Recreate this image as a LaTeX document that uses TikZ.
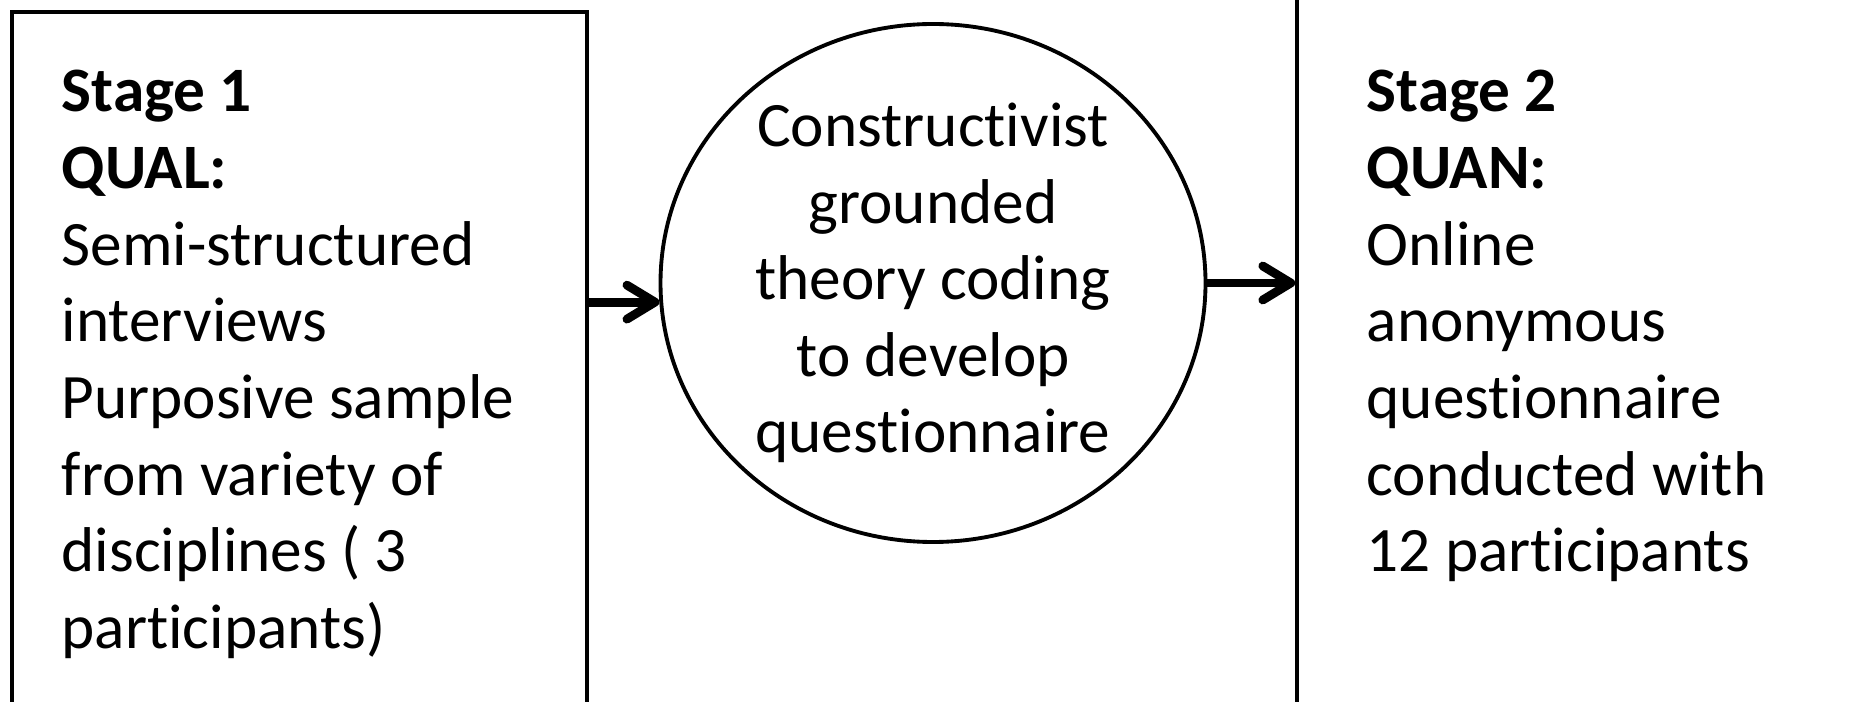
\documentclass[tikz,border=0pt]{standalone}
\usepackage{fontspec}
\setmainfont[Ligatures=NoCommon]{Carlito}
\usetikzlibrary{shapes.geometric,positioning,arrows.meta}

\begin{document}
\begin{tikzpicture}[
    stagebox/.style={draw, line width=1.05pt},
    stagetext/.style={anchor=base west, align=flush left, text width=5cm, inner sep=0pt,
      font=\fontsize{18}{21.8}\selectfont},
    codingnode/.style={ellipse, draw, line width=1.1pt, minimum width=5.45cm,
      minimum height=5.18cm, align=flush center, inner sep=0pt,
      font=\fontsize{18}{21.8}\selectfont},
    flow/.style={-{Straight Barb[length=2.8mm, width=3.4mm, round]}, line width=2.5pt}]

  % Page frame
  \useasboundingbox (0,0) rectangle (18.51,-7.02);
  \clip (0,0) rectangle (18.51,-7.02);

  % Boxes for the two stages
  \node[stagebox, minimum width=5.75cm, minimum height=7.48cm] (stageone) at (2.995,-3.86) {};
  \node[stagebox, minimum width=6.53cm, minimum height=8.1cm] (stagetwo) at (16.235,-3.55) {};

  % Texts of the two stages
  \node[stagetext] (stageonetext) at (0.61,-1.12)
    {\textbf{Stage 1}\\ \textbf{QUAL:}\\ Semi-structured\\ interviews\\ Purposive sample\\
     from variety of\\ disciplines ( 3\\ participants)};
  \node[stagetext] (stagetwotext) at (13.66,-1.12)
    {\textbf{Stage 2}\\ \textbf{QUAN:}\\ Online\\ anonymous\\ questionnaire\\
     conducted with\\ 12 participants};

  % Coding step in between
  \node[codingnode] (coding) at (9.33,-2.83)
    {Constructivist\\ grounded\\ theory coding\\ to develop\\ questionnaire};

  % Arrows
  \draw[flow] (stageone.east |- coding.184) -- (coding.184);
  \draw[flow] (coding.east) -- (stagetwo.west |- coding.east);

\end{tikzpicture}
\end{document}
